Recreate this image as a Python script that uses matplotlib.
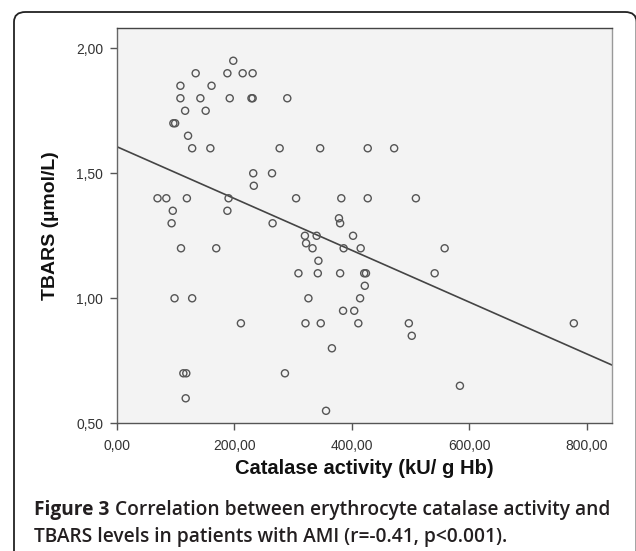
import matplotlib
matplotlib.use("Agg")
import matplotlib.pyplot as plt
from matplotlib.patches import FancyBboxPatch

# catalase activity (kU/g Hb) and TBARS (umol/L)
catalase = [198, 134, 188, 214, 231, 108, 161, 108, 142, 192, 229, 231, 290,
            116, 151, 96, 99, 121, 128, 159, 277, 346, 427, 472, 232, 264,
            233, 69, 84, 119, 190, 305, 382, 427, 509, 95, 188, 93, 265, 378,
            380, 320, 340, 402, 322, 109, 169, 333, 386, 415, 558, 343, 309,
            342, 380, 421, 424, 541, 422, 98, 128, 326, 414, 385, 404, 211,
            321, 347, 411, 497, 778, 502, 366, 113, 118, 286, 584, 117, 356]
tbars = [1.95, 1.90, 1.90, 1.90, 1.90, 1.85, 1.85, 1.80, 1.80, 1.80, 1.80, 1.80, 1.80,
         1.75, 1.75, 1.70, 1.70, 1.65, 1.60, 1.60, 1.60, 1.60, 1.60, 1.60, 1.50, 1.50,
         1.45, 1.40, 1.40, 1.40, 1.40, 1.40, 1.40, 1.40, 1.40, 1.35, 1.35, 1.30, 1.30, 1.32,
         1.30, 1.25, 1.25, 1.25, 1.22, 1.20, 1.20, 1.20, 1.20, 1.20, 1.20, 1.15, 1.10,
         1.10, 1.10, 1.10, 1.10, 1.10, 1.05, 1.00, 1.00, 1.00, 1.00, 0.95, 0.95, 0.90,
         0.90, 0.90, 0.90, 0.90, 0.90, 0.85, 0.80, 0.70, 0.70, 0.70, 0.65, 0.60, 0.55]

# fit line end points as drawn
fit_x = [0, 843]
fit_y = [1.606, 0.733]

xticks = [0, 200, 400, 600, 800]
yticks = [0.5, 1.0, 1.5, 2.0]

plt.rcParams["font.family"] = ["Liberation Sans", "DejaVu Sans"]

fig = plt.figure(figsize=(6.36, 5.51), dpi=100)

# rounded outer frame (right and bottom edges run off the picture)
frame = FancyBboxPatch((14 / 636, -0.2), (636.5 - 14) / 636, 1 - 12 / 551 + 0.2,
                       boxstyle="round,pad=0,rounding_size=0.018",
                       transform=fig.transFigure, fill=False,
                       edgecolor="#222222", linewidth=1.3)
fig.patches.append(frame)

ax = fig.add_axes([117 / 636, 1 - 423.3 / 551, (612 - 117) / 636, (423.3 - 28) / 551])
ax.set_facecolor("#f3f3f3")
ax.scatter(catalase, tbars, s=26, facecolors="none", edgecolors="#555555",
           linewidths=1.0, zorder=3)
ax.plot(fit_x, fit_y, color="#444444", linewidth=1.2, zorder=2)

ax.set_xlim(0, 843)
ax.set_ylim(0.5, 2.081)
ax.set_xticks(xticks)
ax.set_yticks(yticks)
ax.set_xticklabels([f"{v:.2f}".replace(".", ",") for v in xticks])
ax.set_yticklabels([f"{v:.2f}".replace(".", ",") for v in yticks])
ax.tick_params(direction="out", length=5, width=1, color="#555555",
               labelcolor="#333333", labelsize=10)
ax.tick_params(axis="x", pad=6.5)
ax.tick_params(axis="y", pad=5)

ax.spines["top"].set_color("#444444")
ax.spines["right"].set_color("#999999")
ax.spines["left"].set_color("#666666")
ax.spines["bottom"].set_color("#555555")
for sp in ax.spines.values():
    sp.set_linewidth(1.0)

ax.set_xlabel("Catalase activity (kU/ g Hb)", fontsize=14.5, fontweight="bold",
              color="#111111", labelpad=4)
ax.set_ylabel("TBARS (µmol/L)", fontsize=14, fontweight="bold",
              color="#111111", labelpad=12)

cap_font = ["Open Sans", "DejaVu Sans"]
fig.text(34 / 636, 1 - 515 / 551, "Figure 3", fontsize=13.8, fontweight="bold",
         family=cap_font, color="#231f20", va="baseline")
fig.text(115 / 636, 1 - 515 / 551,
         "Correlation between erythrocyte catalase activity and",
         fontsize=13.8, fontweight="semibold", family=cap_font,
         color="#231f20", va="baseline")
fig.text(34 / 636, 1 - 542 / 551,
         "TBARS levels in patients with AMI (r=-0.41, p<0.001).",
         fontsize=13.8, fontweight="semibold", family=cap_font,
         color="#231f20", va="baseline")

fig.savefig("out.png", dpi=100)
